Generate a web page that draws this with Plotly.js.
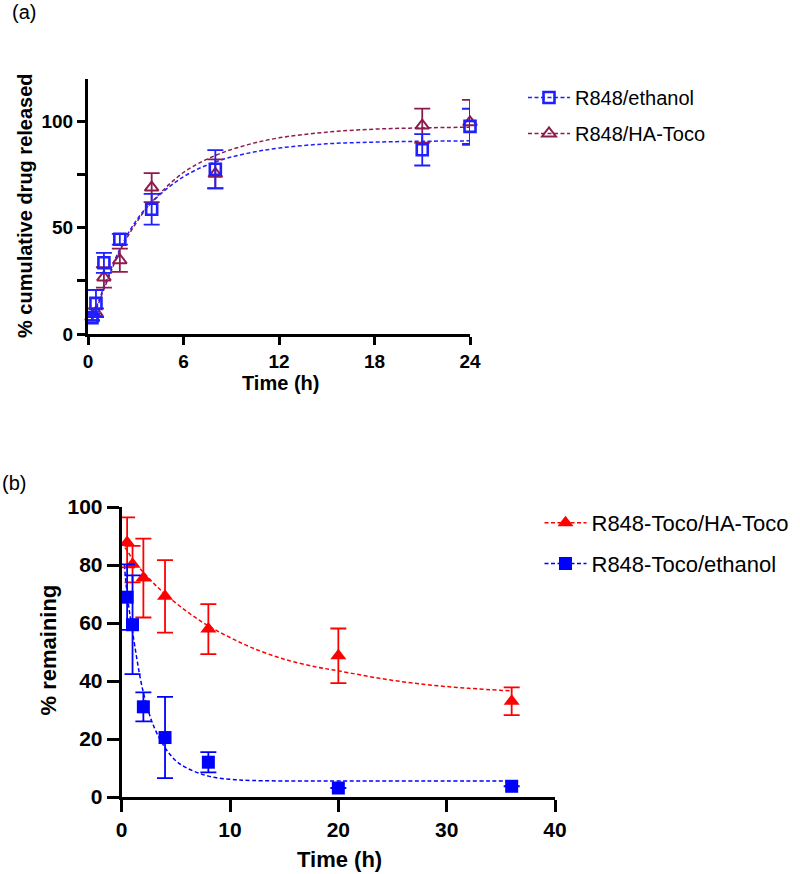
<!DOCTYPE html>
<html><head><meta charset="utf-8">
<script src="https://cdn.plot.ly/plotly-3.0.1.min.js"></script>
<style>html,body{margin:0;padding:0;background:#fff}#chart{width:800px;height:874px}</style>
</head><body><div id="chart"></div>
<script>
// ---------- Panel (a) data ----------
const timeA = [0.25, 0.5, 1, 2, 4, 8, 21, 24];
const ethanolA = [7.7, 14.4, 33.5, 44.6, 58.7, 77.5, 86.7, 97.7];
const ethanolAErr = [1.5, 6.3, 4.7, 2.5, 7.2, 9.0, 7.4, 8.3];
const hatocoA = [8.0, 10.0, 26.6, 34.7, 68.9, 75.4, 98.1, 99.6];
const hatocoAErr = [1.5, 2.0, 4.8, 5.5, 6.8, 6.8, 8.0, 10.6];
const fitTimeA = [0.25, 0.5, 1, 2, 3, 4, 6, 8, 10, 12, 15, 18, 21, 24];
const fitEthanolA = [7, 12, 22, 40, 53, 62, 74, 81, 85, 87.5, 89.5, 90.3, 90.7, 90.9];
const fitHatocoA = [6, 11, 21, 39, 52, 62, 76, 84, 89, 92.3, 95, 96.4, 97, 97.3];
const nameEthA = 'R848/ethanol';
const nameHaA = 'R848/HA-Toco';

// ---------- Panel (b) data ----------
const timeB = [0.5, 1, 2, 4, 8, 20, 36];
const hatocoB = [87.8, 80.3, 75.5, 69.2, 57.9, 48.7, 33.0];
const hatocoBErr = [8.6, 6.3, 13.6, 12.5, 8.6, 9.4, 4.8];
const ethanolB = [68.9, 59.4, 31.1, 20.5, 12.0, 3.1, 3.7];
const ethanolBErr = [11.3, 17.0, 5.0, 14.0, 3.5, 0, 0];
const fitTimeHaB = [0.3, 0.5, 1, 2, 3, 4, 6, 8, 10, 12, 15, 18, 20, 24, 28, 32, 36];
const fitHatocoB = [86, 85, 82, 77.5, 73.5, 70, 64, 59, 55, 51.5, 47.5, 44.8, 43.5, 40.8, 38.8, 37.5, 36.6];
const fitTimeEthB = [0.25, 0.5, 1, 2, 3, 4, 5, 6, 8, 10, 12, 16, 20, 28, 36];
const fitEthanolB = [80, 70, 57, 36, 24, 17, 12.5, 10, 7.2, 6.1, 5.7, 5.5, 5.5, 5.5, 5.5];
const nameHaB = 'R848-Toco/HA-Toco';
const nameEthB = 'R848-Toco/ethanol';

const xTicksA = [0, 6, 12, 18, 24];
const yTicksA = [0, 50, 100];
const xTicksB = [0, 10, 20, 30, 40];
const yTicksB = [0, 20, 40, 60, 80, 100];

// ---------- styles ----------
const FONT = 'Liberation Sans, Arial, Helvetica, sans-serif';
const blueA = '#1f1fff', maroon = '#8c1c4e', redB = '#ff0000', blueB = '#0000ff';
const dash = '4px,2.5px';

function fitTrace(x, y, color, xa, ya, group) {
  return {x: x, y: y, xaxis: xa, yaxis: ya, mode: 'lines', type: 'scatter',
    line: {color: color, width: 1.5, dash: dash, shape: 'spline', smoothing: 1},
    showlegend: false, legendgroup: group, hoverinfo: 'skip'};
}
function dataTrace(x, y, err, color, symbol, size, lw, xa, ya, group) {
  return {x: x, y: y, xaxis: xa, yaxis: ya, mode: 'markers', type: 'scatter', cliponaxis: false,
    marker: {symbol: symbol, size: size, color: color, line: {color: color, width: lw}},
    error_y: {type: 'data', array: err, visible: true, color: color, thickness: 1.8, width: 8},
    showlegend: false, legendgroup: group};
}
function legendTrace(name, color, symbol, size, lw, xa, ya, group, legend) {
  return {x: [null], y: [null], xaxis: xa, yaxis: ya, mode: 'lines+markers', type: 'scatter',
    name: name, legendgroup: group, legend: legend,
    line: {color: color, width: 1.5, dash: dash},
    marker: {symbol: symbol, size: size, color: color, line: {color: color, width: lw}}};
}

const traces = [
  fitTrace(fitTimeA, fitHatocoA, maroon, 'x', 'y', 'ha'),
  fitTrace(fitTimeA, fitEthanolA, blueA, 'x', 'y', 'eth'),
  dataTrace(timeA, hatocoA, hatocoAErr, maroon, 'triangle-up-open', 12, 2, 'x', 'y', 'ha'),
  dataTrace(timeA, ethanolA, ethanolAErr, blueA, 'square-open', 11, 2.6, 'x', 'y', 'eth'),
  legendTrace(nameEthA, blueA, 'square-open', 11, 2.6, 'x', 'y', 'eth', 'legend'),
  legendTrace(nameHaA, maroon, 'triangle-up-open', 12, 2, 'x', 'y', 'ha', 'legend'),

  fitTrace(fitTimeHaB, fitHatocoB, redB, 'x2', 'y2', 'hab'),
  fitTrace(fitTimeEthB, fitEthanolB, blueB, 'x2', 'y2', 'ethb'),
  dataTrace(timeB, hatocoB, hatocoBErr, redB, 'triangle-up', 14, 0, 'x2', 'y2', 'hab'),
  dataTrace(timeB, ethanolB, ethanolBErr, blueB, 'square', 13, 0, 'x2', 'y2', 'ethb'),
  legendTrace(nameHaB, redB, 'triangle-up', 14, 0, 'x2', 'y2', 'hab', 'legend2'),
  legendTrace(nameEthB, blueB, 'square', 13, 0, 'x2', 'y2', 'ethb', 'legend2')
];

function axis(domain, range, tickvals, len, fsize, anchor, extra) {
  return Object.assign({domain: domain, range: range, tickmode: 'array', tickvals: tickvals,
    showline: true, linewidth: 3, linecolor: '#000', ticks: 'outside', ticklen: len, tickwidth: 3,
    tickcolor: '#000', showgrid: false, zeroline: false, anchor: anchor, fixedrange: true,
    tickfont: {family: FONT, size: fsize, color: '#000', weight: 'bold'}}, extra || {});
}

const W = 800, H = 874;
const px = v => v / W, py = v => 1 - v / H;

const layout = {
  width: W, height: H, margin: {l: 0, r: 0, t: 0, b: 0},
  paper_bgcolor: '#fff', plot_bgcolor: '#fff',
  font: {family: FONT, color: '#000'},
  xaxis: axis([px(88), px(470)], [0, 24], xTicksA, 8, 19, 'y'),
  yaxis: axis([py(334), py(79)], [0, 120], yTicksA, 8, 19, 'x',
    {minor: {tickvals: [25, 75], ticks: 'outside', ticklen: 8, tickwidth: 3, tickcolor: '#000'}}),
  xaxis2: axis([px(121.7), px(555)], [0, 40], xTicksB, 12, 21, 'y2'),
  yaxis2: axis([py(797), py(507)], [0, 100], yTicksB, 12, 21, 'x2'),
  legend: {x: px(523), y: py(78), xanchor: 'left', yanchor: 'top', traceorder: 'grouped', itemwidth: 42,
    tracegroupgap: 7, bgcolor: 'rgba(0,0,0,0)', font: {family: FONT, size: 20, color: '#000'}},
  legend2: {x: px(539.5), y: py(502), xanchor: 'left', yanchor: 'top', traceorder: 'grouped', itemwidth: 42,
    tracegroupgap: 9, bgcolor: 'rgba(0,0,0,0)', font: {family: FONT, size: 22, color: '#000'}},
  annotations: [
    {text: '(a)', x: px(11), y: 1, xref: 'paper', yref: 'paper', xanchor: 'left', yanchor: 'top', borderpad: 0,
      showarrow: false, font: {family: FONT, size: 20, color: '#000'}},
    {text: '(b)', x: px(0), y: py(483), xref: 'paper', yref: 'paper', xanchor: 'left', yanchor: 'middle',
      showarrow: false, font: {family: FONT, size: 20, color: '#000'}},
    {text: 'Time (h)', x: px(280), y: py(383), xref: 'paper', yref: 'paper', xanchor: 'center', yanchor: 'middle',
      showarrow: false, font: {family: FONT, size: 20, color: '#000', weight: 'bold'}},
    {text: '% cumulative drug released', x: px(25), y: py(206), xref: 'paper', yref: 'paper', textangle: -90,
      xanchor: 'center', yanchor: 'middle', showarrow: false, font: {family: FONT, size: 20, color: '#000', weight: 'bold'}},
    {text: 'Time (h)', x: px(339), y: py(859), xref: 'paper', yref: 'paper', xanchor: 'center', yanchor: 'middle',
      showarrow: false, font: {family: FONT, size: 22, color: '#000', weight: 'bold'}},
    {text: '% remaining', x: px(48), y: py(650.5), xref: 'paper', yref: 'paper', textangle: -90,
      xanchor: 'center', yanchor: 'middle', showarrow: false, font: {family: FONT, size: 22, color: '#000', weight: 'bold'}}
  ]
};

Plotly.newPlot('chart', traces, layout, {displayModeBar: false, staticPlot: true});
</script>
</body></html>
